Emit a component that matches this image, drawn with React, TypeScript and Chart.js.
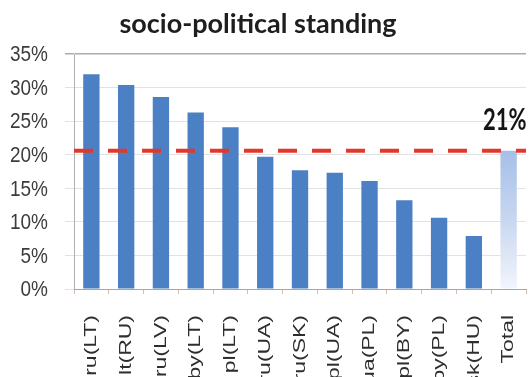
import React, { useEffect, useRef } from "react";
import { Chart, registerables } from "chart.js";

Chart.register(...registerables);

const categories = [
  "ru(LT)", "lt(RU)", "ru(LV)", "by(LT)", "pl(LT)", "ru(UA)", "ru(SK)",
  "pl(UA)", "ua(PL)", "pl(BY)", "by(PL)", "sk(HU)", "Total",
];
const shares = [32.0, 30.4, 28.6, 26.3, 24.1, 19.7, 17.7, 17.3, 16.1, 13.2, 10.6, 7.9, 20.6];
const averageShare = 20.6;
const yTicks = [0, 5, 10, 15, 20, 25, 30, 35];
const titleText = "socio-political standing";

const BAR_BLUE = "#4c80c4";

function drawText(
  ctx: CanvasRenderingContext2D,
  text: string,
  x: number,
  y: number,
  font: string,
  color: string,
  align: CanvasTextAlign,
  baseline: CanvasTextBaseline,
  sx = 1,
  sy = 1,
  rot = 0
) {
  ctx.save();
  ctx.translate(x, y);
  if (rot) ctx.rotate(rot);
  ctx.scale(sx, sy);
  ctx.font = font;
  ctx.fillStyle = color;
  ctx.textAlign = align;
  ctx.textBaseline = baseline;
  ctx.fillText(text, 0, 0);
  ctx.restore();
}

const overlayPlugin = {
  id: "overlay",
  afterDatasetsDraw(chart: any) {
    const { ctx, chartArea } = chart;
    const ys = chart.scales.y;
    const yAvg = ys.getPixelForValue(averageShare);
    ctx.save();
    ctx.strokeStyle = "#e2372b";
    ctx.lineWidth = 4;
    ctx.setLineDash([19, 15]);
    ctx.beginPath();
    ctx.moveTo(chartArea.left, yAvg);
    ctx.lineTo(chartArea.right, yAvg);
    ctx.stroke();
    ctx.restore();
  },
  afterDraw(chart: any) {
    const { ctx } = chart;
    const xs = chart.scales.x;
    const ys = chart.scales.y;

    // title
    drawText(ctx, titleText, 258, 33, "700 27px Lato", "#1e1e1e", "center", "alphabetic");

    // y tick labels
    yTicks.forEach((v) => {
      drawText(
        ctx, `${v}%`, 48, ys.getPixelForValue(v) + 1,
        "19px 'Liberation Sans'", "#3c3c3c", "right", "middle", 1, 1.2
      );
    });

    // category labels, reading upward
    categories.forEach((c, i) => {
      drawText(
        ctx, c, xs.getPixelForValue(i), 315,
        "17px 'Liberation Sans'", "#2e2e2e", "right", "middle", 1.35, 1, -Math.PI / 2
      );
    });

    // average label
    drawText(
      ctx, `${Math.round(averageShare)}%`, 483, 130,
      "700 22px Lato", "#141414", "left", "alphabetic", 1, 1.35
    );
  },
};

export default function App() {
  const ref = useRef<HTMLCanvasElement | null>(null);

  useEffect(() => {
    if (!ref.current) return;
    const chart = new Chart(ref.current, {
      type: "bar",
      data: {
        labels: categories,
        datasets: [
          {
            data: shares,
            backgroundColor: (c: any) => {
              if (c.dataIndex !== categories.length - 1) return BAR_BLUE;
              const ch = c.chart;
              const area = ch.chartArea;
              if (!area) return "#b4c8ea";
              const top = ch.scales.y.getPixelForValue(shares[c.dataIndex]);
              const g = ch.ctx.createLinearGradient(0, top, 0, area.bottom);
              g.addColorStop(0, "#a6bfe8");
              g.addColorStop(0.5, "#c8d7f0");
              g.addColorStop(1, "#f2f5fb");
              return g;
            },
            borderWidth: 0,
            categoryPercentage: 1,
            barPercentage: 0.47,
          },
        ],
      },
      options: {
        responsive: false,
        animation: false,
        devicePixelRatio: 1,
        layout: { padding: { top: 54, right: 5, left: 0, bottom: 0 } },
        plugins: {
          legend: { display: false },
          title: { display: false },
          tooltip: { enabled: false },
        },
        scales: {
          x: {
            afterFit: (s: any) => {
              s.height = 88;
            },
            ticks: { display: false },
            grid: {
              display: true,
              drawOnChartArea: false,
              drawTicks: true,
              tickLength: 5,
              color: "#d9bcae",
              offset: true,
            },
            border: { display: true, color: "#a6a6a6", width: 1 },
          },
          y: {
            min: 0,
            max: 35,
            afterFit: (s: any) => {
              s.width = 74;
            },
            ticks: { display: false, stepSize: 5 },
            grid: {
              drawTicks: true,
              tickLength: 9,
              color: (c: any) => (c.tick && c.tick.value === 35 ? "#b3aaa8" : "#e2e2e2"),
              lineWidth: (c: any) => (c.tick && c.tick.value === 35 ? 1.5 : 1),
            },
            border: { display: true, color: "#b0b0b0", width: 1 },
          },
        },
      },
      plugins: [overlayPlugin],
    });
    return () => chart.destroy();
  }, []);

  return (
    <div style={{ position: "absolute", left: 0, top: 0, width: 531, height: 377, background: "#fff" }}>
      <canvas ref={ref} width={531} height={377} style={{ display: "block" }} />
    </div>
  );
}
